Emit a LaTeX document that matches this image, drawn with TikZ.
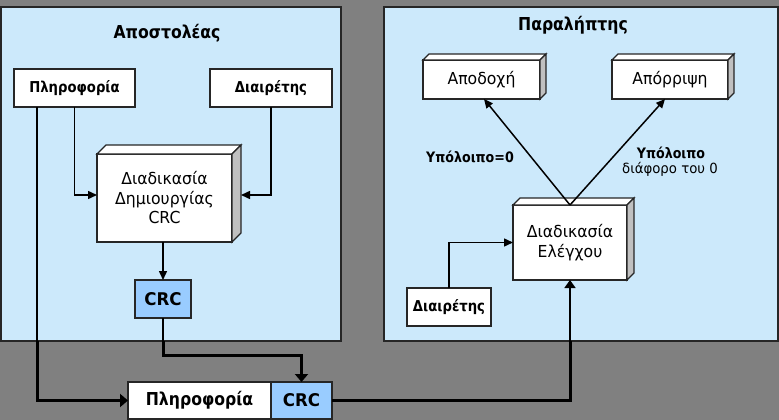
\documentclass[tikz,border=0pt]{standalone}
\usepackage{fontspec}
\setmainfont{DejaVu Sans}[FakeStretch=0.95]
\newfontfamily\narrowfam{DejaVu Sans}[FakeStretch=0.88]
\usetikzlibrary{arrows.meta,calc}
\definecolor{bgc}{HTML}{808080}
\definecolor{panelc}{HTML}{CCE9FB}
\definecolor{crcblue}{HTML}{99CCFF}
\definecolor{sidec}{HTML}{C0C0C0}
\definecolor{edgec}{HTML}{262626}
\newcommand\cubefaces[2]{%
  \draw[boxline, fill=white] (#1.north west) -- ++(#2,-#2) -- ($(#1.north east)+(#2,-#2)$) -- (#1.north east) -- cycle;
  \draw[boxline, fill=sidec] (#1.north east) -- ($(#1.north east)+(#2,-#2)$) -- ($(#1.south east)+(#2,-#2)$) -- (#1.south east) -- cycle;}
\begin{document}
\begin{tikzpicture}[x=1pt,y=-1pt,
  boxline/.style={draw=edgec, line width=1.3pt},
  rectbox/.style={boxline, fill=white, inner sep=0pt, outer sep=0pt, anchor=north west, align=center},
  boldtxt/.style={font=\narrowfam\fontsize{15}{17}\selectfont\bfseries},
  bigbold/.style={font=\narrowfam\fontsize{17.8}{20}\selectfont\bfseries},
  crctxt/.style={font=\fontsize{17.5}{20}\selectfont\bfseries},
  labelbold/.style={font=\narrowfam\fontsize{14.4}{16}\selectfont\bfseries},
  labelreg/.style={font=\fontsize{14}{16}\selectfont},
  regtxt/.style={font=\fontsize{16.5}{19.5}\selectfont},
  titletxt/.style={font=\narrowfam\fontsize{17.8}{20}\selectfont\bfseries},
  panelbox/.style={draw=black!85, line width=1.5pt, fill=panelc, inner sep=0pt, outer sep=0pt, anchor=north west},
  thinline/.style={draw=black, line width=1.5pt},
  thickline/.style={draw=black, line width=3pt},
  smalltip/.style={-{Triangle[length=9pt,width=8pt]}},
  widetip/.style={-{Triangle[length=8pt,width=11pt]}},
  bigtip/.style={-{Triangle[length=8pt,width=13pt]}}]
\useasboundingbox (0,0) rectangle (779,420);
\fill[bgc] (0,0) rectangle (779,420);
% panels
\node[panelbox, minimum width=340, minimum height=334] (sender) at (1,7) {};
\node[panelbox, minimum width=394, minimum height=334] (receiver) at (384,7) {};
\node[titletxt] (stitle) at (167,33) {Αποστολέας};
\node[titletxt] (rtitle) at (573,25) {Παραλήπτης};
% sender boxes
\node[rectbox, boldtxt, minimum width=121, minimum height=38] (pl) at (14,69) {Πληροφορία};
\node[rectbox, boldtxt, minimum width=122, minimum height=38] (dv) at (210,69) {Διαιρέτης};
\node[rectbox, regtxt, minimum width=135, minimum height=88] (proc) at (97,154) {Διαδικασία\\Δημιουργίας\\CRC};
\cubefaces{proc}{9}
\node[rectbox, crctxt, fill=crcblue, minimum width=56, minimum height=38] (crc) at (135,280) {CRC};
% frame
\node[rectbox, bigbold, minimum width=143, minimum height=37] (bl) at (128,382) {Πληροφορία};
\node[rectbox, crctxt, fill=crcblue, minimum width=61, minimum height=37] (bc) at (271,382) {CRC};
% receiver boxes
\node[rectbox, regtxt, minimum width=117, minimum height=39] (acc) at (423,60) {Αποδοχή};
\cubefaces{acc}{6}
\node[rectbox, regtxt, minimum width=116, minimum height=39] (rej) at (612,60) {Απόρριψη};
\cubefaces{rej}{6}
\node[rectbox, regtxt, minimum width=114, minimum height=75] (chk) at (513,205) {Διαδικασία\\Ελέγχου};
\cubefaces{chk}{7}
\node[rectbox, boldtxt, minimum width=84, minimum height=38] (dv2) at (407,288) {Διαιρέτης};
% labels
\node[labelbold] (lzero) at (470,157) {Υπόλοιπο=0};
\node[labelbold] (lnz) at (671,153) {Υπόλοιπο};
\node[labelreg] (lnz2) at (670,169) {διάφορο του 0};
% connectors sender
\draw[thinline, smalltip] (pl.south) |- ($(proc.west)+(0,-3)$);
\draw[thinline, smalltip] (dv.south) |- ($(proc.east)+(9,-3)$);
\draw[thinline, smalltip] (proc.south -| crc.north) -- (crc.north);
\coordinate (plx) at ($(pl.south west)+(23,0)$);
\coordinate (exit1) at (plx |- sender.south);
\draw[thinline] (plx) -- (exit1);
\draw[thickline, bigtip] (exit1) |- (bl.west);
\coordinate (exit2) at (crc.south |- sender.south);
\draw[thinline] (crc.south) -- (exit2);
\draw[thickline, bigtip] (exit2) -- ++(0,14) -| (bc.north);
% connectors receiver
\coordinate (entry) at (chk.south |- receiver.south);
\draw[thickline] (bc.east) -| (entry);
\draw[thinline, widetip] (entry) -- (chk.south);
\draw[thinline, smalltip] (chk.north) -- ($(acc.south)+(2.5,0)$);
\draw[thinline, smalltip] (chk.north) -- ($(rej.south)+(-5,0)$);
\draw[thinline, smalltip] (dv2.north) |- (chk.west);
\end{tikzpicture}
\end{document}
